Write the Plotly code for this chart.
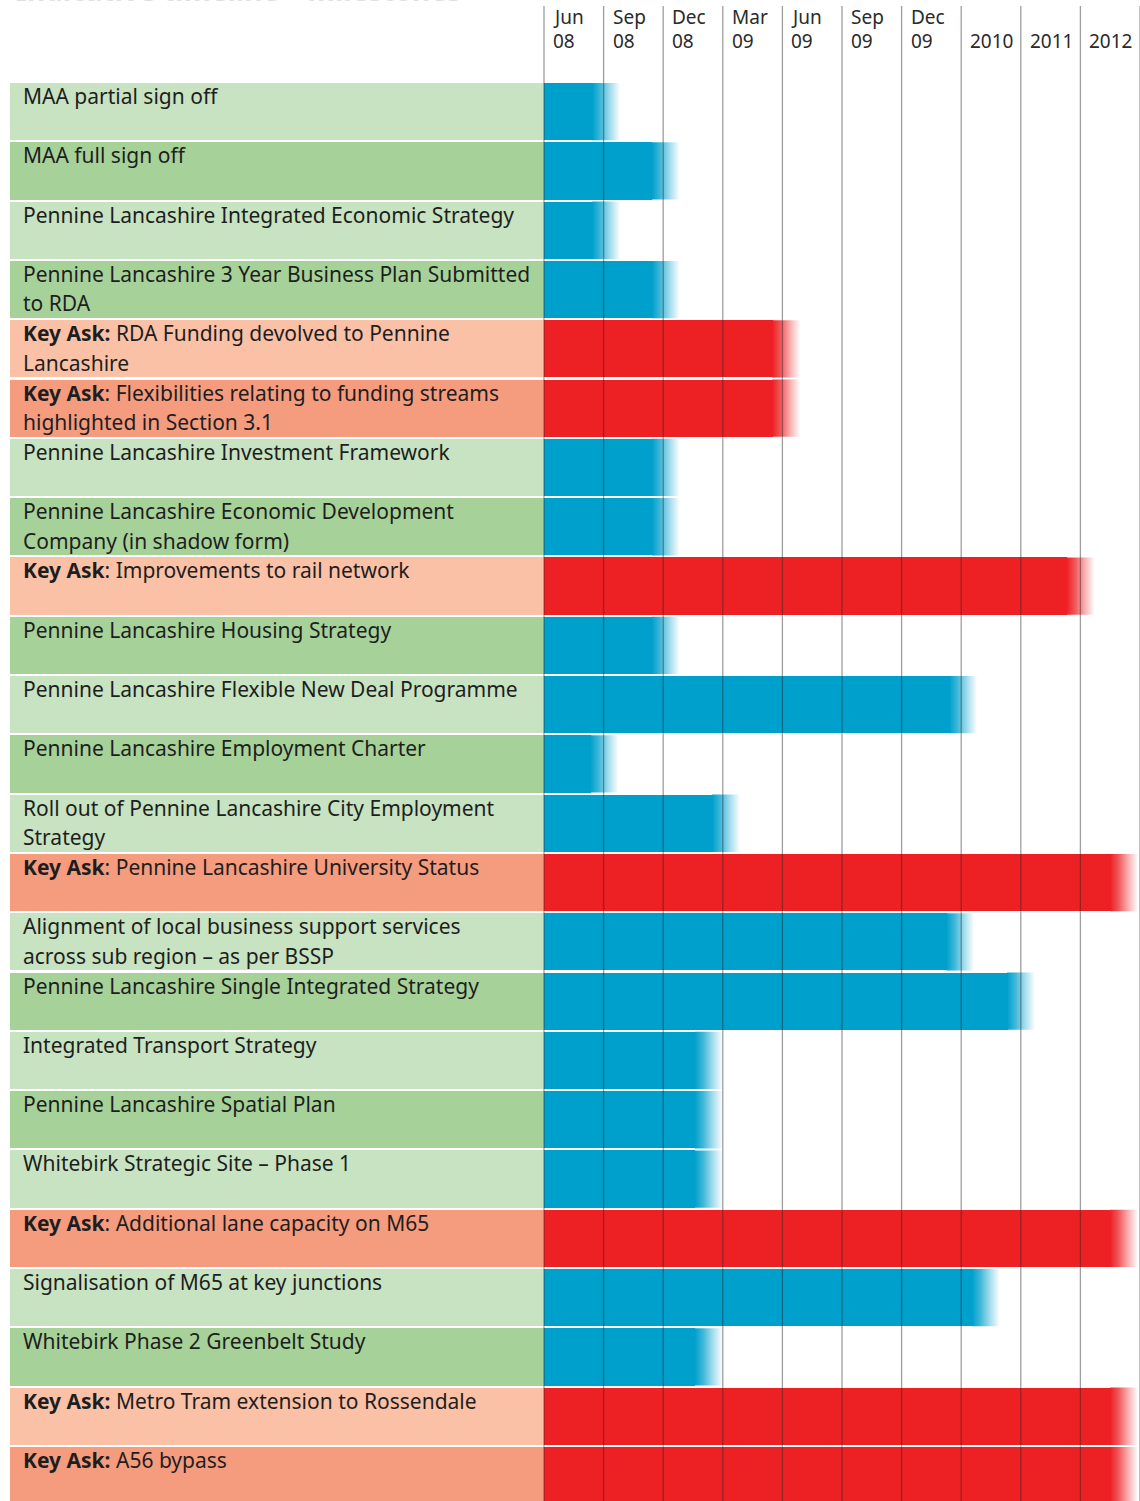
import plotly.graph_objects as go

# ---------------- data ----------------
labels = [
    "MAA partial sign off",
    "MAA full sign off",
    "Pennine Lancashire Integrated Economic Strategy",
    "Pennine Lancashire 3 Year Business Plan Submitted|to RDA",
    "<b>Key Ask:</b> RDA Funding devolved to Pennine|Lancashire",
    "<b>Key Ask</b>: Flexibilities relating to funding streams|highlighted in Section 3.1",
    "Pennine Lancashire Investment Framework",
    "Pennine Lancashire Economic Development|Company (in shadow form)",
    "<b>Key Ask</b>: Improvements to rail network",
    "Pennine Lancashire Housing Strategy",
    "Pennine Lancashire Flexible New Deal Programme",
    "Pennine Lancashire Employment Charter",
    "Roll out of Pennine Lancashire City Employment|Strategy",
    "<b>Key Ask</b>: Pennine Lancashire University Status",
    "Alignment of local business support services|across sub region – as per BSSP",
    "Pennine Lancashire Single Integrated Strategy",
    "Integrated Transport Strategy",
    "Pennine Lancashire Spatial Plan",
    "Whitebirk Strategic Site – Phase 1",
    "<b>Key Ask</b>: Additional lane capacity on M65",
    "Signalisation of M65 at key junctions",
    "Whitebirk Phase 2 Greenbelt Study",
    "<b>Key Ask:</b> Metro Tram extension to Rossendale",
    "<b>Key Ask:</b> A56 bypass",
]
# 1 = Key Ask (red), 0 = milestone (blue)
key_ask = [0, 0, 0, 0, 1, 1, 0, 0, 1, 0, 0, 0, 0, 1, 0, 0, 0, 0, 0, 1, 0, 0, 1, 1]
# bar end (in timeline columns from Jun 08)
bar_end = [1.28, 2.28, 1.28, 2.28, 4.30, 4.30, 2.28, 2.28, 9.24, 2.28, 7.27, 1.25,
           3.29, 9.97, 7.22, 8.24, 3.0, 3.0, 3.0, 9.97, 7.65, 3.0, 9.97, 9.97]
tick_top = ["Jun", "Sep", "Dec", "Mar", "Jun", "Sep", "Dec", "", "", ""]
tick_bot = ["08", "08", "08", "09", "09", "09", "09", "2010", "2011", "2012"]
title_text = "Indicative timeline – milestones"

# ---------------- styles ----------------
W, H = 1140, 1501
ORIGIN_PX, COL_PX = 544, 59.6
TOP_PX, ROW_PX = 83, 59.3
LABEL_LEFT_PX = 10
FADE = 0.46
BAR_H = 0.966
BLUE = (0, 160, 204)
RED = (237, 32, 36)
BG = {0: ["#c7e3c1", "#a6d29a"], 1: ["#fbc1a7", "#f59b7e"]}
FONT = "Noto Sans"
FS = 21
FS_HEAD = 19

n = len(labels)
x_min = (0 - ORIGIN_PX) / COL_PX
x_max = (W - ORIGIN_PX) / COL_PX
y_top = (0 - TOP_PX) / ROW_PX
y_bot = (H - TOP_PX) / ROW_PX
label_left = (LABEL_LEFT_PX - ORIGIN_PX) / COL_PX
ncols = len(tick_bot)

ycen = [i + BAR_H / 2 for i in range(n)]


def rgba(c, a):
    return f"rgba({c[0]},{c[1]},{c[2]},{a:.3f})"


fig = go.Figure()

# label backgrounds
fig.add_trace(go.Bar(
    orientation="h", y=ycen, x=[-label_left] * n, base=[label_left] * n,
    width=BAR_H, marker=dict(color=[BG[k][i % 2] for i, k in enumerate(key_ask)], line=dict(width=0)),
    hoverinfo="skip", showlegend=False))

# solid bars
solid = [e - FADE for e in bar_end]
fig.add_trace(go.Bar(
    orientation="h", y=ycen, x=solid, base=[0] * n, width=BAR_H,
    marker=dict(color=[rgba(RED if k else BLUE, 1) for k in key_ask], line=dict(width=0)),
    hoverinfo="skip", showlegend=False))

# fading tails (gradient filled)
for i in range(n):
    c = RED if key_ask[i] else BLUE
    s0, s1 = solid[i] - 0.01, bar_end[i]
    t0, t1 = i, i + BAR_H
    fig.add_trace(go.Scatter(
        x=[s0, s1, s1, s0, s0], y=[t0, t0, t1, t1, t0],
        mode="lines", line=dict(width=0), fill="toself",
        fillgradient=dict(type="horizontal",
                          colorscale=[[0, rgba(c, 1)], [0.3, rgba(c, 0.75)],
                                      [0.65, rgba(c, 0.35)], [1, rgba(c, 0)]]),
        hoverinfo="skip", showlegend=False))

shapes = []
# vertical grid lines
for k in range(ncols + 1):
    shapes.append(dict(type="line", xref="x", yref="paper", x0=k, x1=k,
                       y0=0, y1=1 - 6 / H, layer="above",
                       line=dict(color="rgba(40,40,40,0.45)", width=1.3)))

annotations = []
# header
for k in range(ncols):
    for txt, py in ((tick_top[k], 17), (tick_bot[k], 41)):
        if txt:
            annotations.append(dict(x=k, xref="x", xshift=7, xanchor="left",
                                    y=1 - py / H, yref="paper", yanchor="middle",
                                    text=txt, showarrow=False,
                                    font=dict(family=FONT, size=FS_HEAD, color="#2a2a2a")))
# row labels
for i, lab in enumerate(labels):
    for j, line in enumerate(lab.split("|")):
        annotations.append(dict(x=label_left, xref="x", xshift=11, xanchor="left",
                                y=i, yref="y", yshift=-(13 + 29.5 * j), yanchor="middle",
                                text=line, showarrow=False,
                                font=dict(family=FONT, size=FS, color="#1e1e1e")))
# cropped title at top (cut off in the source as well)
annotations.append(dict(x=14 / W, xref="paper", xanchor="left", y=1, yref="paper",
                        yanchor="middle", yshift=10, text="<b>" + title_text + "</b>",
                        showarrow=False, font=dict(family=FONT, size=28, color="#e0e0e0")))

fig.update_layout(
    width=W, height=H, margin=dict(l=0, r=0, t=0, b=0),
    paper_bgcolor="white", plot_bgcolor="white",
    barmode="overlay", bargap=0,
    xaxis=dict(range=[x_min, x_max], visible=False, fixedrange=True),
    yaxis=dict(range=[y_bot, y_top], visible=False, fixedrange=True),
    shapes=shapes, annotations=annotations, showlegend=False,
)

fig.write_html("out.html", config={"displayModeBar": False},
               post_script="document.body.style.margin='0px';")
